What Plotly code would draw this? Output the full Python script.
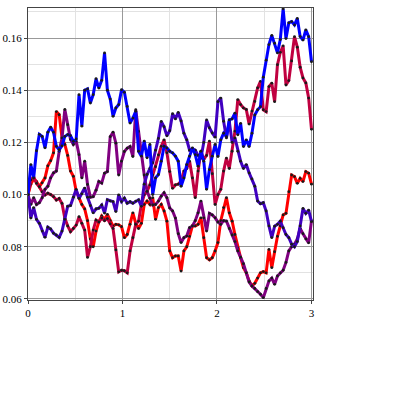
import plotly.graph_objects as go

# time axis (101 samples from 0 to 3)
times = [round(0.03 * i, 2) for i in range(101)]

red_vals = [
    0.1000, 0.1040, 0.1060, 0.1050, 0.1030, 0.1045, 0.1064, 0.1110, 0.1130, 0.1160,
    0.1318, 0.1306, 0.1217, 0.1192, 0.1150, 0.1090, 0.1070, 0.1013, 0.0988, 0.0962,
    0.0945, 0.0900, 0.0830, 0.0800, 0.0860, 0.0896, 0.0918, 0.0905, 0.0924, 0.0900,
    0.0879, 0.0886, 0.0884, 0.0877, 0.0835, 0.0847, 0.0886, 0.0930, 0.0890, 0.0870,
    0.0890, 0.0962, 0.0975, 0.0962, 0.0988, 0.0905, 0.0950, 0.0962, 0.0937, 0.0898,
    0.0784, 0.0758, 0.0765, 0.0765, 0.0707, 0.0784, 0.0800, 0.0840, 0.0880, 0.0880,
    0.0886, 0.0911, 0.0835, 0.0758, 0.0750, 0.0758, 0.0784, 0.0816, 0.0900, 0.0950,
    0.0988, 0.0930, 0.0898, 0.0847, 0.0796, 0.0758, 0.0720, 0.0700, 0.0669, 0.0650,
    0.0660, 0.0680, 0.0700, 0.0705, 0.0700, 0.0790, 0.0720, 0.0781, 0.0840, 0.0880,
    0.0922, 0.0928, 0.1011, 0.1075, 0.1069, 0.1043, 0.1062, 0.1050, 0.1088, 0.1082,
    0.1040]

crimson_vals = [
    0.1000, 0.1056, 0.1068, 0.1043, 0.1030, 0.1010, 0.0998, 0.1005, 0.1000, 0.0992,
    0.0979, 0.0985, 0.0966, 0.0909, 0.0880, 0.0858, 0.0870, 0.0883, 0.0915, 0.0890,
    0.0864, 0.0759, 0.0800, 0.0864, 0.0902, 0.0895, 0.0910, 0.0900, 0.0908, 0.0888,
    0.0870, 0.0788, 0.0704, 0.0710, 0.0708, 0.0700, 0.0784, 0.0835, 0.0886, 0.0898,
    0.0962, 0.0999, 0.1013, 0.1037, 0.1075, 0.1107, 0.1152, 0.1185, 0.1210, 0.1160,
    0.1088, 0.1024, 0.1037, 0.1040, 0.1052, 0.1090, 0.1100, 0.1128, 0.1064, 0.0988,
    0.1090, 0.1166, 0.1135, 0.1150, 0.1205, 0.1080, 0.0962, 0.1000, 0.1020, 0.1090,
    0.1140, 0.1100, 0.1166, 0.1243, 0.1364, 0.1345, 0.1332, 0.1326, 0.1270, 0.1320,
    0.1357, 0.1409, 0.1434, 0.1325, 0.1318, 0.1414, 0.1427, 0.1356, 0.1498, 0.1545,
    0.1570, 0.1420, 0.1437, 0.1512, 0.1605, 0.1565, 0.1488, 0.1447, 0.1428, 0.1370,
    0.1250]

purple_vals = [
    0.1000, 0.0962, 0.0988, 0.0962, 0.0969, 0.0988, 0.1020, 0.1032, 0.1064, 0.1083,
    0.1090, 0.1166, 0.1217, 0.1326, 0.1268, 0.1211, 0.1192, 0.1205, 0.1153, 0.1064,
    0.1128, 0.1039, 0.0990, 0.0992, 0.1017, 0.1050, 0.1044, 0.1082, 0.1088, 0.1222,
    0.1239, 0.1197, 0.1075, 0.1128, 0.1165, 0.1178, 0.1184, 0.1146, 0.1325, 0.1242,
    0.1152, 0.1075, 0.1012, 0.0986, 0.0960, 0.0962, 0.0975, 0.0994, 0.1007, 0.0988,
    0.0949, 0.0937, 0.0910, 0.0850, 0.0816, 0.0835, 0.0841, 0.0873, 0.0880, 0.0900,
    0.0930, 0.0975, 0.0911, 0.0860, 0.0928, 0.0922, 0.0911, 0.0895, 0.0886, 0.0900,
    0.0898, 0.0870, 0.0845, 0.0820, 0.0784, 0.0760, 0.0735, 0.0700, 0.0665, 0.0650,
    0.0640, 0.0628, 0.0618, 0.0605, 0.0640, 0.0669, 0.0680, 0.0656, 0.0688, 0.0700,
    0.0710, 0.0740, 0.0784, 0.0800, 0.0810, 0.0830, 0.0870, 0.0850, 0.0830, 0.0815,
    0.0900]

violet_vals = [
    0.1000, 0.0910, 0.0950, 0.0905, 0.0890, 0.0860, 0.0836, 0.0875, 0.0868, 0.0852,
    0.0845, 0.0836, 0.0860, 0.0905, 0.0955, 0.0958, 0.0990, 0.1020, 0.0985, 0.1003,
    0.1025, 0.0990, 0.0958, 0.0930, 0.0945, 0.0948, 0.0960, 0.0929, 0.0980, 0.0975,
    0.0973, 0.0935, 0.0999, 0.0973, 0.0986, 0.0967, 0.0973, 0.0967, 0.0975, 0.0980,
    0.0955, 0.1040, 0.1077, 0.1100, 0.1122, 0.1170, 0.1215, 0.1280, 0.1260, 0.1225,
    0.1245, 0.1310, 0.1290, 0.1315, 0.1282, 0.1235, 0.1210, 0.1170, 0.1175, 0.1170,
    0.1150, 0.1139, 0.1200, 0.1286, 0.1256, 0.1236, 0.1220, 0.1356, 0.1370, 0.1281,
    0.1217, 0.1280, 0.1200, 0.1217, 0.1166, 0.1128, 0.1100, 0.1115, 0.1083, 0.1060,
    0.1032, 0.0975, 0.0965, 0.0969, 0.0937, 0.0880, 0.0835, 0.0879, 0.0886, 0.0898,
    0.0873, 0.0847, 0.0835, 0.0810, 0.0800, 0.0820, 0.0880, 0.0947, 0.0928, 0.0940,
    0.0896]

blue_vals = [
    0.1000, 0.1115, 0.1064, 0.1168, 0.1231, 0.1223, 0.1179, 0.1239, 0.1258, 0.1239,
    0.1185, 0.1172, 0.1187, 0.1223, 0.1230, 0.1226, 0.1204, 0.1213, 0.1383, 0.1262,
    0.1400, 0.1405, 0.1351, 0.1383, 0.1444, 0.1408, 0.1438, 0.1543, 0.1400, 0.1366,
    0.1300, 0.1332, 0.1345, 0.1402, 0.1392, 0.1338, 0.1274, 0.1293, 0.1319, 0.1166,
    0.1147, 0.1205, 0.1141, 0.1192, 0.1000, 0.1064, 0.1077, 0.1128, 0.1185, 0.1179,
    0.1166, 0.1160, 0.1147, 0.1128, 0.1032, 0.1064, 0.1115, 0.1147, 0.1179, 0.1153,
    0.1109, 0.1166, 0.1128, 0.1020, 0.1096, 0.1147, 0.1192, 0.1146, 0.1210, 0.1235,
    0.1222, 0.1286, 0.1290, 0.1312, 0.1229, 0.1273, 0.1184, 0.1210, 0.1184, 0.1235,
    0.1305, 0.1325, 0.1337, 0.1450, 0.1515, 0.1575, 0.1610, 0.1580, 0.1543, 0.1594,
    0.1712, 0.1598, 0.1658, 0.1663, 0.1650, 0.1675, 0.1606, 0.1592, 0.1631, 0.1605,
    0.1509]

series_names = ["red", "crimson", "purple", "violet", "blue"]
series_values = [red_vals, crimson_vals, purple_vals, violet_vals, blue_vals]
series_colors = ["#ff0000", "#c00040", "#800080", "#4000c0", "#0000ff"]

x_tickvals = [0, 1, 2, 3]
x_ticktext = ["0", "1", "2", "3"]
y_tickvals = [0.06, 0.08, 0.10, 0.12, 0.14, 0.16]
y_ticktext = ["0.06", "0.08", "0.10", "0.12", "0.14", "0.16"]

fig = go.Figure()
for name, vals, color in zip(series_names, series_values, series_colors):
    fig.add_trace(go.Scatter(
        x=times, y=vals, name=name, mode="lines+markers",
        line=dict(color=color, width=3),
        marker=dict(color="#1a1a1a", size=2.8, symbol="circle"),
        showlegend=False,
    ))

tickfont = dict(family="Liberation Serif", size=11, color="black")

fig.update_layout(
    width=395, height=395,
    margin=dict(l=28, r=82, t=8, b=95, pad=0),
    paper_bgcolor="white", plot_bgcolor="white",
    xaxis=dict(
        range=[0, 3.016], tickmode="array", tickvals=x_tickvals, ticktext=x_ticktext,
        showgrid=True, gridcolor="#999999", gridwidth=1,
        minor=dict(dtick=0.5, tick0=0, showgrid=True, gridcolor="#e2e2e2", ticks=""),
        showline=True, linecolor="#444444", linewidth=1, mirror=True,
        ticks="outside", ticklen=3, tickcolor="#444444",
        tickfont=tickfont, zeroline=False, automargin=False,
    ),
    yaxis=dict(
        range=[0.0596, 0.1715], tickmode="array", tickvals=y_tickvals, ticktext=y_ticktext,
        showgrid=True, gridcolor="#999999", gridwidth=1,
        minor=dict(dtick=0.01, tick0=0.06, showgrid=True, gridcolor="#e2e2e2", ticks=""),
        showline=True, linecolor="#444444", linewidth=1, mirror=True,
        ticks="outside", ticklen=3, tickcolor="#444444",
        tickfont=tickfont, zeroline=False, automargin=False,
    ),
)

fig.write_html("out.html", config={"displayModeBar": False},
               post_script="document.body.style.margin='0';")
